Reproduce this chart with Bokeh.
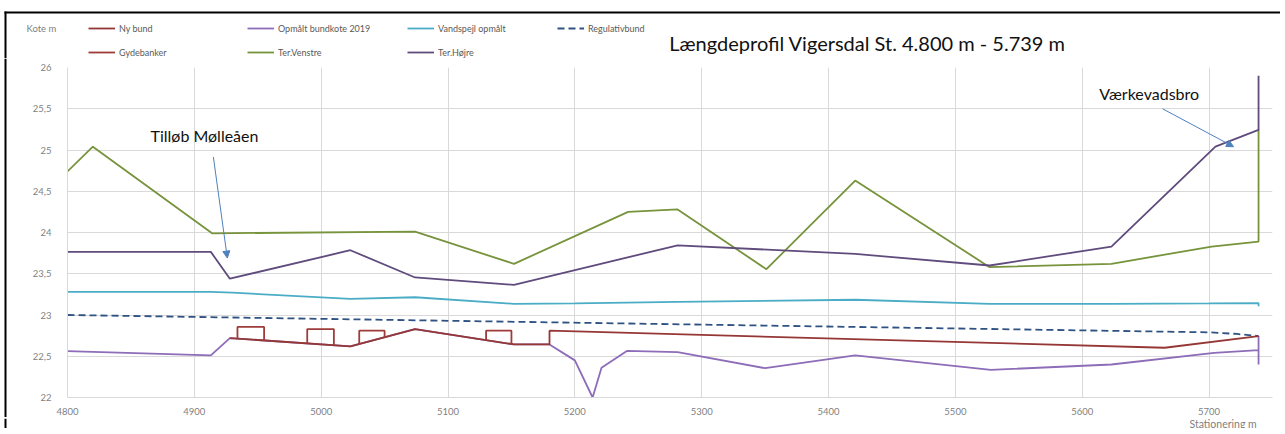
import numpy as np
from bokeh.plotting import figure
from bokeh.layouts import column, row
from bokeh.models import (Range1d, FixedTicker, CustomJSTickFormatter, Legend, LegendItem,
                          Label, Arrow, NormalHead)
from bokeh.embed import file_html
from bokeh.resources import INLINE

# ---------------- data ----------------
x_ticks = [4800, 4900, 5000, 5100, 5200, 5300, 5400, 5500, 5600, 5700]
y_ticks = [22, 22.5, 23, 23.5, 24, 24.5, 25, 25.5, 26]

ny_bund_x = [4928, 5023, 5074, 5152, 5180, 5180, 5665, 5739]
ny_bund_y = [22.72, 22.62, 22.83, 22.643, 22.643, 22.81, 22.603, 22.745]

opmaalt_x = [4800, 4913, 4928, 5023, 5074, 5152, 5180, 5200, 5214, 5221, 5241, 5281,
             5350, 5421, 5528, 5623, 5704, 5739, 5739, 5739]
opmaalt_y = [22.563, 22.51, 22.72, 22.62, 22.83, 22.643, 22.643, 22.45, 22.0, 22.36, 22.565,
             22.55, 22.355, 22.51, 22.335, 22.40, 22.54, 22.575, 22.745, 22.40]

vandspejl_x = [4800, 4913, 4930, 5023, 5074, 5152, 5200, 5281, 5421, 5527, 5623, 5700, 5739, 5739]
vandspejl_y = [23.28, 23.28, 23.27, 23.195, 23.215, 23.135, 23.14, 23.16, 23.185, 23.135,
               23.135, 23.14, 23.145, 23.105]

regulativ_x = [4800, 5700, 5722, 5739]
regulativ_y = [23.0, 22.79, 22.77, 22.745]

gyde_start = [4934, 4989, 5030, 5130]
gyde_end = [4955, 5010, 5050, 5150]
gyde_top = [22.855, 22.83, 22.81, 22.81]

ter_venstre_x = [4800, 4820, 4914, 5074, 5152, 5242, 5281, 5351, 5421, 5527, 5623, 5702, 5739, 5739]
ter_venstre_y = [24.74, 25.04, 23.99, 24.01, 23.62, 24.25, 24.28, 23.555, 24.63, 23.58, 23.62,
                 23.83, 23.89, 25.25]

ter_hojre_x = [4800, 4913, 4928, 5023, 5074, 5152, 5281, 5421, 5527, 5623, 5705, 5739, 5739]
ter_hojre_y = [23.765, 23.765, 23.44, 23.785, 23.455, 23.365, 23.845, 23.74, 23.60, 23.83,
               25.04, 25.245, 25.9]

# ---------------- styling ----------------
C_NY = "#953735"
C_GYDE = "#9E3C39"
C_OPM = "#8D6CB8"
C_VAND = "#4BACC6"
C_REG = "#2F5283"
C_VEN = "#77933C"
C_HOJ = "#5F4B7C"
C_ARROW = "#4F81BD"
FONT = "Lato"
LW = 1.8
GRAY = "#7F7F7F"

PAGE_W = 1280
TOP_H = 58               # header strip: page y 0..58
MAIN_H = 417 - TOP_H     # main plot: page y 58..417
BOT_H = 11               # footer strip: page y 417..428
STRIP_W = 20             # left strip holding the chart-box border line


def plain_fig(width, height, x_range, y_range):
    f = figure(width=width, height=height, output_backend="svg", toolbar_location=None,
               x_range=x_range, y_range=y_range, x_axis_type=None, y_axis_type=None,
               min_border_left=0, min_border_right=0, min_border_top=0, min_border_bottom=0)
    f.outline_line_color = None
    f.background_fill_color = "white"
    f.border_fill_color = "white"
    return f

# ---------------- header strip (border, legend, title, "Kote m") ----------------
p_top = plain_fig(PAGE_W, TOP_H, Range1d(0, PAGE_W), Range1d(TOP_H, 0))
p_top.quad(left=[4, 4], right=[PAGE_W, 6], top=[11, 11], bottom=[13, TOP_H],
           fill_color="black", line_color=None)

def leg_renderer(**kw):
    return p_top.line([np.nan], [np.nan], line_width=LW, **kw)

def add_leg(label, rend, px_left, py_center):
    leg = Legend(items=[LegendItem(label=label, renderers=[rend])],
                 location=(px_left, TOP_H - py_center - 6),
                 orientation="horizontal", padding=0, margin=0, spacing=0,
                 border_line_alpha=0, background_fill_alpha=0,
                 glyph_width=27, glyph_height=12, label_height=12, label_standoff=4,
                 label_text_font=FONT, label_text_font_size="9px", label_text_color="#595959")
    p_top.add_layout(leg)

add_leg("Ny bund", leg_renderer(line_color=C_NY), 88, 28)
add_leg("Opmålt bundkote 2019", leg_renderer(line_color=C_OPM), 247, 28)
add_leg("Vandspejl opmålt", leg_renderer(line_color=C_VAND), 407, 28)
add_leg("Regulativbund", leg_renderer(line_color=C_REG, line_dash="7 4"), 557, 28)
add_leg("Gydebanker", leg_renderer(line_color=C_GYDE), 88, 52)
add_leg("Ter.Venstre", leg_renderer(line_color=C_VEN), 247, 52)
add_leg("Ter.Højre", leg_renderer(line_color=C_HOJ), 407, 52)

p_top.add_layout(Label(x=867, y=42, text="Længdeprofil Vigersdal St. 4.800 m - 5.739 m",
                       text_font=FONT, text_font_size="20px", text_color="#111111",
                       text_align="center", text_baseline="middle"))
p_top.add_layout(Label(x=26, y=28, text="Kote m", text_font=FONT,
                       text_font_size="9.5px", text_color=GRAY, text_baseline="middle"))

# ---------------- left strip (continuation of the box's left edge) ----------------
p_strip = plain_fig(STRIP_W, MAIN_H, Range1d(0, STRIP_W), Range1d(0, 1))
p_strip.quad(left=[4], right=[6], top=[1], bottom=[0], fill_color="black", line_color=None)

# ---------------- footer strip ("Stationering m") ----------------
p_bot = plain_fig(PAGE_W, BOT_H, Range1d(0, PAGE_W), Range1d(BOT_H, 0))
p_bot.quad(left=[4], right=[6], top=[0], bottom=[BOT_H], fill_color="black", line_color=None)
p_bot.add_layout(Label(x=1189, y=5, text="Stationering m", text_font=FONT,
                       text_font_size="10.5px", text_color=GRAY, text_baseline="middle"))

# ---------------- main plot ----------------
p = figure(width=PAGE_W - STRIP_W, height=MAIN_H, output_backend="svg", toolbar_location=None,
           x_range=Range1d(4800, 5750), y_range=Range1d(22, 26),
           min_border_left=67 - STRIP_W, min_border_right=PAGE_W - STRIP_W - (67 - STRIP_W) - 1205,
           min_border_top=9, min_border_bottom=18)
p.outline_line_color = None
p.background_fill_color = "white"
p.border_fill_color = "white"

for fig in (p_top, p_strip, p_bot, p):
    if "frame_align" in fig.properties():
        fig.frame_align = False

p.xaxis.ticker = FixedTicker(ticks=x_ticks)
p.yaxis.ticker = FixedTicker(ticks=y_ticks)
p.xgrid.ticker = FixedTicker(ticks=x_ticks)
p.ygrid.ticker = FixedTicker(ticks=y_ticks)
p.xaxis.formatter = CustomJSTickFormatter(code="return tick.toFixed(0);")
p.yaxis.formatter = CustomJSTickFormatter(code="return String(tick).replace('.', ',');")
for ax in (p.xaxis, p.yaxis):
    ax.axis_line_color = "#D9D9D9"
    ax.major_tick_line_color = None
    ax.minor_tick_line_color = None
    ax.major_label_text_font = FONT
    ax.major_label_text_font_size = "9.5px"
    ax.major_label_text_color = GRAY
p.yaxis.major_label_standoff = 10
p.xaxis.major_label_standoff = 4
for g in (p.xgrid, p.ygrid):
    g.grid_line_color = "#D9D9D9"
    g.grid_line_width = 1

p.line(opmaalt_x, opmaalt_y, line_color=C_OPM, line_width=LW)
p.line(vandspejl_x, vandspejl_y, line_color=C_VAND, line_width=LW)
p.line(regulativ_x, regulativ_y, line_color=C_REG, line_width=LW, line_dash="7 4")
p.line(ny_bund_x, ny_bund_y, line_color=C_NY, line_width=LW)

gx, gy = [], []
for x0, x1, top in zip(gyde_start, gyde_end, gyde_top):
    b0 = float(np.interp(x0, ny_bund_x[:5], ny_bund_y[:5]))
    b1 = float(np.interp(x1, ny_bund_x[:5], ny_bund_y[:5]))
    gx += [x0, x0, x1, x1, np.nan]
    gy += [b0, top, top, b1, np.nan]
p.line(gx, gy, line_color=C_GYDE, line_width=LW)

p.line(ter_venstre_x, ter_venstre_y, line_color=C_VEN, line_width=LW)
p.line(ter_hojre_x, ter_hojre_y, line_color=C_HOJ, line_width=LW)

p.add_layout(Label(x=4908, y=25.17, text="Tilløb Mølleåen", text_font=FONT,
                   text_font_size="16px", text_color="#111111", text_align="center",
                   text_baseline="middle"))
p.add_layout(Arrow(x_start=4915, y_start=24.915, x_end=4926, y_end=23.69,
                   line_color=C_ARROW, line_width=1,
                   end=NormalHead(size=7, fill_color=C_ARROW, line_color=C_ARROW)))
p.add_layout(Label(x=5652.8, y=25.69, text="Værkevadsbro", text_font=FONT,
                   text_font_size="16px", text_color="#111111", text_align="center",
                   text_baseline="middle"))
p.add_layout(Arrow(x_start=5663.3, y_start=25.50, x_end=5719.3, y_end=25.04,
                   line_color=C_ARROW, line_width=1,
                   end=NormalHead(size=7, fill_color=C_ARROW, line_color=C_ARROW)))

layout = column(p_top, row(p_strip, p, spacing=0), p_bot, spacing=0)

open("out.html", "w").write(file_html(layout, INLINE))
